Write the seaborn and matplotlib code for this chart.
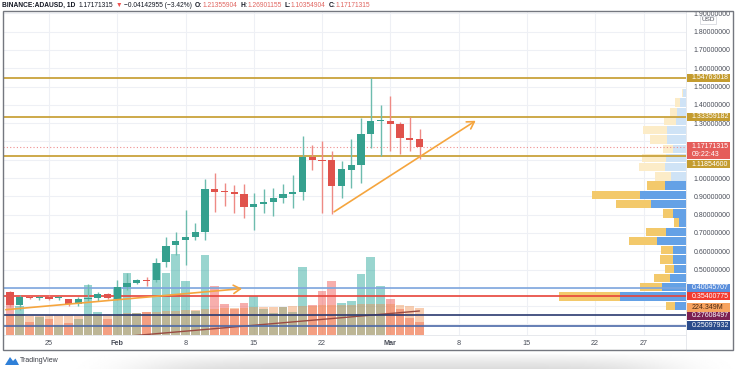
import numpy as np
import pandas as pd
import matplotlib
matplotlib.use("Agg")
import matplotlib.pyplot as plt
import matplotlib.transforms as mtransforms
from matplotlib.patches import Rectangle, Polygon
from matplotlib.lines import Line2D
import seaborn as sns

sns.set_style("white")
plt.rcParams["font.family"] = ["Liberation Sans", "DejaVu Sans"]

W, H = 736, 369

# ---------------- data ----------------
dates = pd.date_range("2021-01-21", "2021-03-04", freq="D")
opens = [0.376, 0.306, 0.349, 0.345, 0.351, 0.343, 0.337, 0.310, 0.339, 0.346, 0.364,
         0.340, 0.406, 0.426, 0.443, 0.440, 0.539, 0.634, 0.661, 0.676, 0.703,
         0.938, 0.930, 0.925, 0.911, 0.842, 0.858, 0.869, 0.889, 0.911, 0.923,
         1.113, 1.100, 1.098, 0.958, 1.045, 1.073, 1.240, 1.311, 1.313, 1.295, 1.220, 1.21355904]
highs = [0.380, 0.361, 0.356, 0.357, 0.362, 0.356, 0.340, 0.348, 0.419, 0.376, 0.372,
         0.443, 0.480, 0.450, 0.460, 0.561, 0.680, 0.707, 0.825, 0.752, 0.995,
         1.026, 0.971, 0.962, 0.967, 0.916, 0.938, 0.943, 0.967, 1.015, 1.231,
         1.182, 1.204, 1.148, 1.095, 1.211, 1.326, 1.545, 1.399, 1.450, 1.308, 1.335, 1.26901155]
lows = [0.297, 0.280, 0.338, 0.336, 0.333, 0.334, 0.301, 0.303, 0.330, 0.330, 0.340,
        0.333, 0.390, 0.420, 0.410, 0.430, 0.515, 0.580, 0.525, 0.661, 0.661,
        0.816, 0.849, 0.807, 0.780, 0.716, 0.810, 0.794, 0.862, 0.834, 0.880,
        1.044, 0.810, 0.803, 0.892, 0.944, 0.975, 1.166, 1.120, 1.149, 1.131, 1.146, 1.10354904]
closes = [0.306, 0.348, 0.346, 0.348, 0.341, 0.346, 0.310, 0.337, 0.344, 0.364, 0.346,
          0.404, 0.425, 0.440, 0.438, 0.534, 0.630, 0.657, 0.676, 0.703, 0.938,
          0.925, 0.921, 0.911, 0.840, 0.858, 0.869, 0.891, 0.911, 0.923, 1.113,
          1.098, 1.095, 0.956, 1.049, 1.073, 1.240, 1.311, 1.317, 1.295, 1.220, 1.209, 1.17171315]
volumes_m = [246, 240, 109, 150, 129, 82, 101, 131, 410, 191, 131,
             396, 506, 183, 191, 588, 511, 664, 443, 197, 656,
             404, 252, 213, 260, 322, 213, 183, 227, 191, 560,
             246, 361, 443, 260, 279, 500, 642, 402, 295, 211, 137, 109]
volume_ma_m = [160, 160, 158, 158, 160, 160, 160, 162, 165, 168, 170,
               175, 180, 182, 185, 190, 195, 200, 205, 205, 210,
               215, 220, 222, 225, 228, 230, 232, 232, 234, 236,
               240, 242, 245, 248, 250, 252, 255, 256, 255, 250, 240, 224]

tick_dates = pd.to_datetime(["2021-01-25", "2021-02-01", "2021-02-08", "2021-02-15", "2021-02-22",
                             "2021-03-01", "2021-03-08", "2021-03-15", "2021-03-22", "2021-03-27"])
tick_labels = ["25", "Feb", "8", "15", "22", "Mar", "8", "15", "22", "27"]
price_ticks = [0.5, 0.6, 0.7, 0.8, 0.9, 1.0, 1.3, 1.4, 1.5, 1.6, 1.7, 1.8, 1.9]

gold_levels = [1.54763018, 1.33359182, 1.11854600]
last_price = 1.17171315
countdown = "09:22:43"
vah_level = 0.40045707
poc_level = 0.35400775
vol_ma_label = "224.349M"
band_levels = [0.2497, 0.1930]
band_texts = ["0.27608497", "0.25097932"]

# volume profile rows (price centre, buy, sell)
vp_prices = [0.302, 0.352, 0.403, 0.453, 0.504, 0.554, 0.605, 0.655, 0.706, 0.756, 0.807, 0.857,
             0.908, 0.958, 1.009, 1.059, 1.110, 1.160, 1.211, 1.261, 1.312, 1.362, 1.413, 1.463]
vp_up = [11, 66, 24, 16, 12, 13, 13, 29, 20, 7, 13, 35, 46, 21, 15, 21, 20, 13, 19, 19, 10, 9, 6, 3]
vp_down = [9, 61, 22, 16, 9, 13, 12, 28, 20, 5, 10, 35, 48, 18, 16, 26, 24, 10, 17, 24, 12, 7, 5, 1]
vp_in_area = [True] * 14 + [False] * 10

# trend arrows (date, price)
arrow1 = (("2021-01-20 07:00", 0.279), ("2021-02-14 02:00", 0.397))
arrow2 = (("2021-02-23", 0.807), ("2021-03-10", 1.321))
vol_trend = (("2021-02-02", -10.0), ("2021-03-04", 197.0))

# ---------------- helpers ----------------
t0 = dates[0]
def dnum(t):
    return (pd.Timestamp(t) - t0) / pd.Timedelta(days=1)

day = np.array([dnum(t) for t in dates])
o = np.array(opens); h = np.array(highs); l = np.array(lows); c = np.array(closes)
up = c >= o

fig = plt.figure(figsize=(W / 100, H / 100), dpi=100)
fig.patch.set_facecolor("white")
rect = [3 / W, (H - 335) / H, 683 / W, 324 / H]

ax_v = fig.add_axes(rect)
ax = ax_v.twinx()
ax_vp = fig.add_axes(rect, sharey=ax)
ax_v.set_zorder(0); ax_vp.set_zorder(1); ax.set_zorder(2)
ax_vp.patch.set_visible(False); ax.patch.set_visible(False)

XL = (-0.718, 69.333)
PL = (0.14208, 1.91257)
VL = (0, 2656.8)

# ---------- volume pane (seaborn) ----------
vdf = pd.DataFrame({"d": day, "vol": volumes_m, "ma": volume_ma_m,
                    "dir": np.where(up, "up", "down")})
sns.barplot(data=vdf, x="d", y="vol", hue="dir", palette={"up": "#26a69a", "down": "#ef5350"},
            native_scale=True, dodge=False, width=0.88, saturation=1, alpha=0.47,
            linewidth=0, errorbar=None, legend=False, ax=ax_v, zorder=2)
sns.barplot(data=vdf, x="d", y="ma", color="#f08c48", native_scale=True, width=0.88,
            saturation=1, alpha=0.42, linewidth=0, errorbar=None, ax=ax_v, zorder=3)
(vx0, vy0), (vx1, vy1) = vol_trend
ax_v.plot([dnum(vx0), dnum(vx1)], [vy0, vy1], color="#9a4b43", lw=1.0, zorder=4)

# grid
for td in tick_dates:
    ax_v.axvline(dnum(td), color="#eef0f5", lw=0.8, zorder=0)
blend = mtransforms.blended_transform_factory(ax_v.transAxes, ax.transData)
for p in np.arange(0.2, 1.95, 0.1):
    ax_v.plot([0, 1], [p, p], transform=blend, color="#eef0f5", lw=0.8, zorder=0)

ax_v.set_xlim(*XL); ax_v.set_ylim(*VL)
ax_v.set_xlabel(""); ax_v.set_ylabel("")
ax_v.set_yticks([])
ax_v.set_xticks([dnum(t) for t in tick_dates])
ax_v.set_xticklabels(tick_labels)
ax_v.tick_params(axis="x", length=0, pad=3.5, labelsize=5.2, labelcolor="#4a4e59")
for i, lab in enumerate(ax_v.get_xticklabels()):
    if tick_labels[i] in ("Feb", "Mar"):
        lab.set_fontweight("bold")
for s in ax_v.spines.values():
    s.set_visible(False)

# ---------- volume profile ----------
for p, bu, bd, ina in zip(vp_prices, vp_up, vp_down, vp_in_area):
    cb = "#64a1e6" if ina else "#cfe3f6"
    cy = "#f3c96b" if ina else "#fcecc8"
    ax_vp.barh(p, bu, left=0, height=0.046, color=cb, linewidth=0)
    ax_vp.barh(p, bd, left=bu, height=0.046, color=cy, linewidth=0)
ax_vp.set_xlim(683, 0)
ax_vp.axis("off")

# ---------- price pane ----------
ax.set_xlim(*XL); ax.set_ylim(*PL)
up_col, dn_col = "#35a08e", "#e0524c"
cols = np.where(up, up_col, dn_col)
wcols = np.where(up, "#6dbcae", "#ee8a85")
ax.vlines(day, l, h, colors=wcols, lw=1.0, zorder=5)
body_bot = np.minimum(o, c)
body_h = np.maximum(np.abs(c - o), 0.005)
ax.bar(day, body_h, bottom=body_bot, width=0.76, color=cols, linewidth=0, zorder=6)

gold = "#c9a23c"
for lv in gold_levels:
    ax.axhline(lv, color=gold, lw=1.3, zorder=4)
ax.axhline(last_price, color="#ef8f8f", lw=0.8, ls=(0, (1, 2)), zorder=4)
ax.axhline(vah_level, color="#7ea6de", lw=1.2, zorder=4)
ax.axhline(poc_level, color="#e8433a", lw=1.2, zorder=4)
ax.axhline(band_levels[0], color="#2a3a70", lw=1.2, zorder=4)
ax.axhline(band_levels[1], color="#4a68a8", lw=1.2, zorder=4)

for (a0, p0), (a1, p1) in (arrow1, arrow2):
    ax.annotate("", xy=(dnum(a1), p1), xytext=(dnum(a0), p0),
                arrowprops=dict(arrowstyle="->,head_length=0.5,head_width=0.3",
                                color="#f5a53e", lw=1.2),
                zorder=7)

ax.set_yticks(price_ticks)
ax.yaxis.set_major_formatter(matplotlib.ticker.FormatStrFormatter("%.8f"))
ax.tick_params(axis="y", length=0, pad=5.5, labelsize=5.0, labelcolor="#4a4e59")
for s in ax.spines.values():
    s.set_visible(False)

# side label boxes
bt = mtransforms.blended_transform_factory(ax.transAxes, ax.transData)
vt = mtransforms.blended_transform_factory(ax.transAxes, ax_v.transData)
bx0 = 1 + 1 / 683
bw = 43 / 683
tx = (691.5 - 3) / 683

def box(p, lines, fc, tc="white", hpx=8.4, trans=None):
    trans = bt if trans is None else trans
    y0 = trans.transform((0, p))[1]
    inv = trans.inverted()
    pb = inv.transform((0, y0 - hpx / 2))[1]
    pt = inv.transform((0, y0 + hpx / 2))[1]
    ax.add_patch(Rectangle((bx0, pb), bw, pt - pb, transform=trans,
                           fc=fc, ec="none", clip_on=False, zorder=20))
    n = len(lines)
    for k, t in enumerate(lines):
        off = (n - 1) / 2 * 8.2 - k * 8.2
        yy = inv.transform((0, y0 + off))[1]
        ax.text(tx, yy, t, transform=trans, color=tc, fontsize=5.0, va="center", ha="left",
                clip_on=False, zorder=21)

box(gold_levels[0], ["%.8f" % gold_levels[0]], "#c49c2f")
box(gold_levels[1], ["%.8f" % gold_levels[1]], "#c49c2f")
box(1.150, ["%.8f" % last_price, countdown], "#e55d5a", hpx=17.6)
box(1.0765, ["%.8f" % gold_levels[2]], "#c49c2f")
box(vah_level, ["%.8f" % vah_level], "#5b8fdc")
box(poc_level, ["%.8f" % poc_level], "#f23b30")
box(224.349, [vol_ma_label], "#f7a360", tc="#4a2a14", trans=vt)
box(0.2475, [band_texts[0]], "#7b1f52")
box(0.1930, [band_texts[1]], "#2a4b8b")

# USD box
ax.text((708 - 3) / 683, 1.864, "USD", transform=bt, fontsize=4.6, color="#4a4e59",
        ha="center", va="center", clip_on=False, zorder=21,
        bbox=dict(boxstyle="square,pad=0.25", fc="white", ec="#d6d8de", lw=0.6))

# frame and separators
fig.add_artist(Rectangle((3 / W, (H - 350) / H), 730 / W, 339 / H, transform=fig.transFigure,
                         fill=False, ec="#74777f", lw=1.0, zorder=30))
fig.add_artist(Line2D([686 / W, 686 / W], [(H - 350) / H, (H - 11) / H], color="#e3e5ea", lw=0.6))
fig.add_artist(Line2D([3 / W, 686 / W], [(H - 335) / H, (H - 335) / H], color="#e3e5ea", lw=0.6))

# header
pieces = [("BINANCE:ADAUSD, 1D", "#131722", "bold", 3),
          ("1.17171315", "#131722", "normal", 2.5),
          ("\u25bc", "#ef5350", "normal", 2),
          ("\u22120.04142955 (\u22123.42%)", "#131722", "normal", 3),
          ("O:", "#131722", "bold", 0), ("1.21355904", "#e06560", "normal", 3),
          ("H:", "#131722", "bold", 0), ("1.26901155", "#e06560", "normal", 3),
          ("L:", "#131722", "bold", 0), ("1.10354904", "#e06560", "normal", 3),
          ("C:", "#131722", "bold", 0), ("1.17171315", "#e06560", "normal", 3)]
fig.canvas.draw()
rend = fig.canvas.get_renderer()
xpos = 2.0
for txt, col, wt, gap in pieces:
    t = fig.text(xpos / W, 1 - 5.5 / H, txt, color=col, fontweight=wt, fontsize=4.8,
                 va="center", ha="left", family=["Liberation Sans", "DejaVu Sans"])
    bb = t.get_window_extent(renderer=rend)
    xpos += bb.width + gap

# TradingView logo
fig.add_artist(Polygon([[5 / W, 1 - 365 / H], [10 / W, 1 - 357 / H], [13 / W, 1 - 361 / H],
                        [15.5 / W, 1 - 358.5 / H], [19 / W, 1 - 365 / H]],
                       closed=True, transform=fig.transFigure, fc="#2f80d8", ec="none"))
fig.text(20 / W, 1 - 361 / H, "TradingView", fontsize=5.0, color="#3b3e47", va="center", ha="left")

# bottom page shadow
axs = fig.add_axes([0, 0, 1, 16 / H])
xx = np.linspace(0, 1, 400)
yy = np.linspace(0, 1, 30)
X, Y = np.meshgrid(xx, yy)
shade = np.exp(-((X - 0.55) / 0.36) ** 6) * np.clip(Y, 0, 1) ** 0.8
axs.imshow(1 - 0.14 * shade, cmap="gray", vmin=0, vmax=1, aspect="auto", origin="upper",
           extent=[0, 1, 0, 1])
axs.axis("off")
axs.set_zorder(-1)

fig.savefig("out.png", dpi=100, facecolor="white")
